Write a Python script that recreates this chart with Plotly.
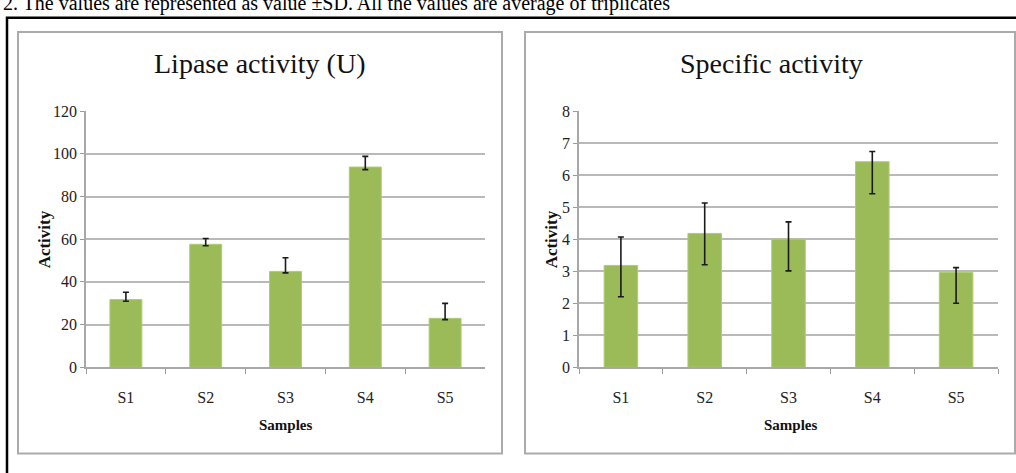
import plotly.graph_objects as go

W, H = 1016, 473

samples = ["S1", "S2", "S3", "S4", "S5"]

lipase_activity = [31.7, 57.6, 44.9, 93.8, 22.9]
lipase_err_plus = [3.4, 2.7, 6.4, 5.0, 7.0]
lipase_err_minus = [0.8, 0.7, 0.7, 1.2, 0.6]

specific_activity = [3.18, 4.18, 4.0, 6.42, 2.96]
specific_err_plus = [0.89, 0.95, 0.54, 0.32, 0.15]
specific_err_minus = [0.98, 0.98, 0.99, 1.0, 0.96]

left_ticks = [0, 20, 40, 60, 80, 100, 120]
right_ticks = [0, 1, 2, 3, 4, 5, 6, 7, 8]

note_text = "2. The values are represented as value \u00b1SD. All the values are average of triplicates"

BAR = "#9BBB59"
GRID = "#b9b9b9"
FONT = "Liberation Serif"


def px_x(p):
    return p / W


def px_y(p):
    return 1 - p / H


fig = go.Figure()

fig.add_trace(go.Bar(
    x=samples, y=lipase_activity, marker=dict(color=BAR, line=dict(color="#aecb74", width=1)),
    error_y=dict(type="data", symmetric=False, array=lipase_err_plus, arrayminus=lipase_err_minus,
                 color="#1a1a1a", thickness=1.6, width=3),
    xaxis="x", yaxis="y", showlegend=False,
))
fig.add_trace(go.Bar(
    x=samples, y=specific_activity, marker=dict(color=BAR, line=dict(color="#aecb74", width=1)),
    error_y=dict(type="data", symmetric=False, array=specific_err_plus, arrayminus=specific_err_minus,
                 color="#1a1a1a", thickness=1.6, width=3),
    xaxis="x2", yaxis="y2", showlegend=False,
))

ydom = [px_y(372.6), px_y(107.0)]

common_x = dict(
    type="category", showgrid=False, showline=True, linecolor="#a8a8a8", linewidth=1.5,
    ticks="outside", tickson="boundaries", ticklen=5, tickcolor="#9a9a9a", tickwidth=1,
    tickfont=dict(family=FONT, size=16, color="#222"), ticklabelstandoff=15,
    fixedrange=True,
)
common_y = dict(
    showgrid=True, gridcolor=GRID, gridwidth=2, showline=True, linecolor="#a8a8a8", linewidth=1.5,
    ticks="outside", ticklen=4, tickcolor="#9a9a9a", tickwidth=1,
    tickfont=dict(family=FONT, size=16, color="#222"), zeroline=False,
)

fig.update_layout(
    width=W, height=H, margin=dict(l=0, r=0, t=0, b=0),
    paper_bgcolor="white", plot_bgcolor="white", bargap=0.6,
    xaxis=dict(domain=[px_x(86), px_x(485)], anchor="y", **common_x),
    yaxis=dict(domain=ydom, anchor="x", range=[0, 120], tickvals=left_ticks, **common_y),
    xaxis2=dict(domain=[px_x(579), px_x(998)], anchor="y2", **common_x),
    yaxis2=dict(domain=ydom, anchor="x2", range=[0, 8], tickvals=right_ticks, **common_y),
)

shapes = [
    dict(type="rect", xref="paper", yref="paper", x0=px_x(7), x1=px_x(1040), y0=px_y(10), y1=px_y(500),
         line=dict(color="black", width=2.5), layer="below"),
    dict(type="rect", xref="paper", yref="paper", x0=px_x(18), x1=px_x(502), y0=px_y(25), y1=px_y(462),
         line=dict(color="#ababab", width=2), layer="below"),
    dict(type="rect", xref="paper", yref="paper", x0=px_x(525), x1=px_x(1015), y0=px_y(25), y1=px_y(462),
         line=dict(color="#ababab", width=2), layer="below"),
]
fig.update_layout(shapes=shapes)

ann = [
    dict(text=note_text, x=0, y=1, xref="paper", yref="paper", xanchor="left", yanchor="bottom",
         xshift=1, yshift=-9, showarrow=False, font=dict(family=FONT, size=20, color="black")),
    dict(text="Lipase activity (U)", x=px_x(259), y=px_y(58), xref="paper", yref="paper",
         xanchor="center", yanchor="middle",
         showarrow=False, font=dict(family=FONT, size=28, color="#111")),
    dict(text="Specific activity", x=px_x(771), y=px_y(58), xref="paper", yref="paper",
         xanchor="center", yanchor="middle",
         showarrow=False, font=dict(family=FONT, size=28, color="#111")),
    dict(text="<b>Activity</b>", x=px_x(44), y=px_y(240), xref="paper", yref="paper", textangle=-90,
         xanchor="center", yanchor="middle",
         showarrow=False, font=dict(family=FONT, size=17, color="#111")),
    dict(text="<b>Activity</b>", x=px_x(551), y=px_y(240), xref="paper", yref="paper", textangle=-90,
         xanchor="center", yanchor="middle",
         showarrow=False, font=dict(family=FONT, size=17, color="#111")),
    dict(text="<b>Samples</b>", x=px_x(286), y=px_y(433), xref="paper", yref="paper",
         xanchor="center", yanchor="middle",
         showarrow=False, font=dict(family=FONT, size=15, color="#111")),
    dict(text="<b>Samples</b>", x=px_x(791), y=px_y(433), xref="paper", yref="paper",
         xanchor="center", yanchor="middle",
         showarrow=False, font=dict(family=FONT, size=15, color="#111")),
]
fig.update_layout(annotations=ann)

fig.write_html(
    "out.html",
    config={"displayModeBar": False},
    post_script="document.body.style.margin='0';document.body.style.overflow='hidden';"
                "document.documentElement.style.overflow='hidden';",
)
